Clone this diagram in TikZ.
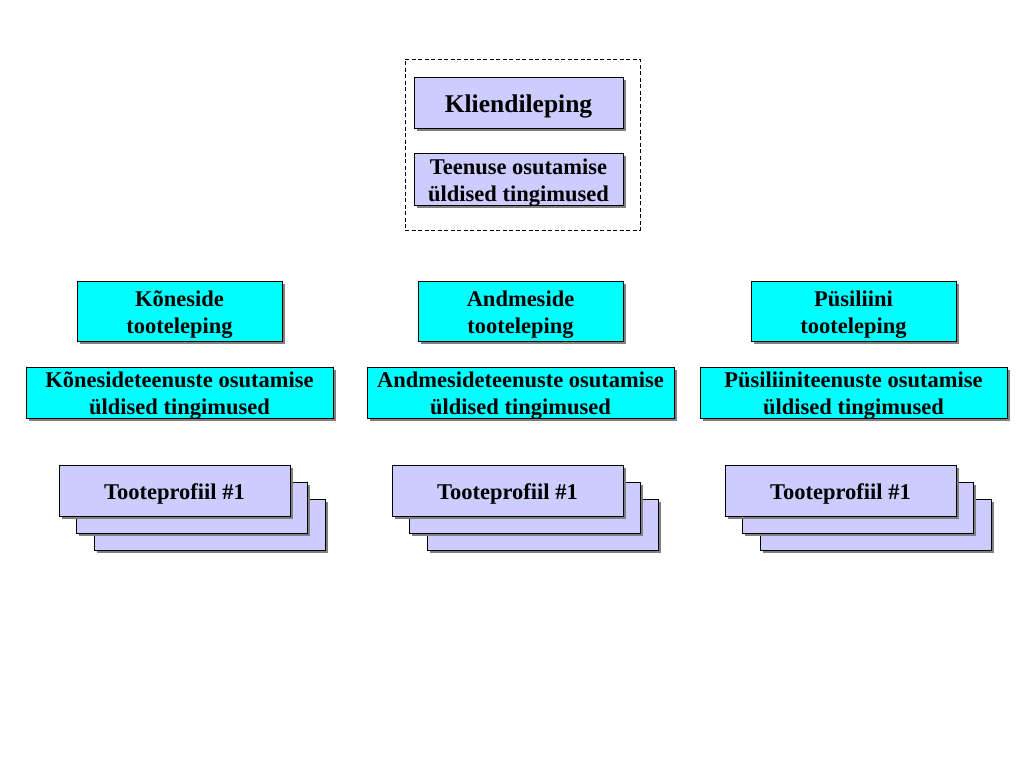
\documentclass[tikz,border=0pt]{standalone}
\usepackage{fontspec}
\setmainfont{Liberation Serif}
\usetikzlibrary{shadows}
\definecolor{lavender}{RGB}{204,204,255}
\definecolor{aqua}{RGB}{0,255,255}
\tikzset{
  doc/.style={draw=black, thin, inner sep=0pt,
    drop shadow={shadow xshift=3pt, shadow yshift=-3pt, fill=gray, opacity=1}},
  general/.style={doc, fill=lavender},
  product/.style={doc, fill=aqua},
  caption/.style={align=center, inner sep=0pt, yshift=-3.5pt,
    font=\bfseries\fontsize{22.5}{27}\selectfont},
}

\begin{document}
\begin{tikzpicture}[x=1pt, y=-1pt]
          \useasboundingbox[fill=white] (0,0) rectangle (1024,768);
          % Customer contract
          \node[draw, thin, dash pattern=on 4pt off 2.5pt, minimum width=235pt, minimum height=171pt] (frame) at (522.5,144.5) {};
          \node[general, minimum width=209pt, minimum height=51pt,
            label={[caption, font=\bfseries\fontsize{25.5}{27}\selectfont]center:Kliendileping}] (kliendileping) at (518.5,102.5) {};
          \node[general, minimum width=209pt, minimum height=52pt,
            label={[caption]center:{Teenuse osutamise\\üldised tingimused}}] (teenus) at (518.5,179) {};
          % Product contracts
          \foreach \x/\name/\txt in {179.5/kone/Kõneside, 520.5/andme/Andmeside, 853.5/pysi/Püsiliini}
            \node[product, minimum width=205pt, minimum height=60pt,
              label={[caption]center:{\txt\\tooteleping}}] (\name leping) at (\x,311) {};
          \foreach \x/\name/\txt in {179.5/kone/Kõnesideteenuste, 520.5/andme/Andmesideteenuste, 853.5/pysi/Püsiliiniteenuste}
            \node[product, minimum width=307pt, minimum height=51pt,
              label={[caption]center:{\txt{} osutamise\\üldised tingimused}}] (\name tingimus) at (\x,392.5) {};
          % Product profiles
          \foreach \x/\name in {174.5/kone, 507.5/andme, 840.5/pysi} {
            \node[general, minimum width=231pt, minimum height=51pt] (\name profiil3) at (\x+35,524.5) {};
            \node[general, minimum width=231pt, minimum height=51pt] (\name profiil2) at (\x+17,507.5) {};
            \node[general, minimum width=231pt, minimum height=51pt,
              label={[caption]center:Tooteprofiil \#1}] (\name profiil1) at (\x,490.5) {};
          }
        \end{tikzpicture}
\end{document}
